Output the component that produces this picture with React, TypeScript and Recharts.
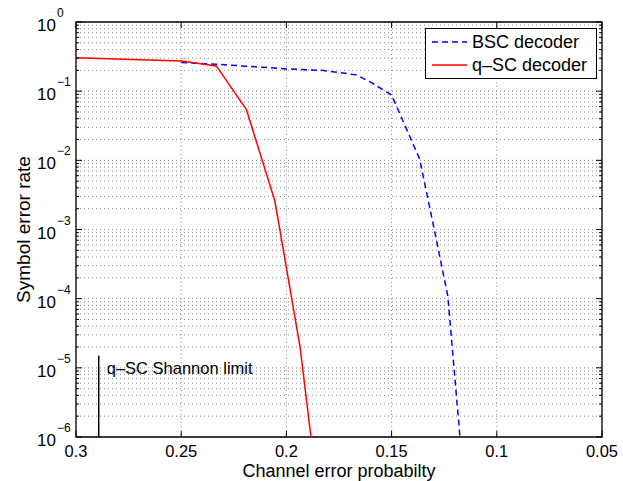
import React from "react";
import {
  LineChart,
  Line,
  XAxis,
  YAxis,
  CartesianGrid,
  Legend,
  ReferenceArea,
  ReferenceLine,
  ReferenceDot,
} from "recharts";

// channel error probability / symbol error rate
const bscX = [0.25, 0.2333, 0.2, 0.1833, 0.1667, 0.16, 0.15, 0.1367, 0.13, 0.1233, 0.11];
const bscY = [0.26, 0.245, 0.21, 0.2, 0.172, 0.135, 0.088, 0.0105, 0.0011, 0.00011, 2.3e-9];

const qscX = [0.3, 0.25, 0.2333, 0.219, 0.2055, 0.1935, 0.18];
const qscY = [0.305, 0.272, 0.232, 0.054, 0.0026, 2.0e-5, 8e-9];

const shannonX = 0.2892;
const shannonTop = 1.5e-5;

const xTicks = [0.3, 0.25, 0.2, 0.15, 0.1, 0.05];
const xTickLabels = ["0.3", "0.25", "0.2", "0.15", "0.1", "0.05"];
const decadeExps = [-6, -5, -4, -3, -2, -1, 0];
const minorSteps = [1, 2, 3, 4, 5, 6, 7, 8, 9];

const bscData = bscX.map((x, i) => ({ x, y: bscY[i] }));
const qscData = qscX.map((x, i) => ({ x, y: qscY[i] }));

const yTicks: number[] = [];
decadeExps.forEach((e) => {
  if (e === 0) {
    yTicks.push(1);
    return;
  }
  minorSteps.forEach((m) => yTicks.push(Number((m * Math.pow(10, e)).toPrecision(3))));
});

const W = 623;
const H = 481;
const margin = { top: 22, right: 21, left: 0, bottom: 0 };
const Y_AXIS_W = 76;
const X_AXIS_H = 44;
const PLOT_LEFT = margin.left + Y_AXIS_W;
const PLOT_RIGHT = W - margin.right;
const PLOT_TOP = margin.top;
const PLOT_BOTTOM = H - margin.bottom - X_AXIS_H;

const FONT = "'Liberation Sans', Arial, Helvetica, sans-serif";

function YTick(props: any) {
  const { y, payload } = props;
  const v = payload.value as number;
  const exp = Math.log10(v);
  const isMajor = Math.abs(exp - Math.round(exp)) < 1e-6;
  const len = isMajor ? 6 : 3;
  return (
    <g>
      <line x1={PLOT_LEFT} x2={PLOT_LEFT + len} y1={y} y2={y} stroke="#000" />
      <line x1={PLOT_RIGHT - len} x2={PLOT_RIGHT} y1={y} y2={y} stroke="#000" />
      {isMajor && (
        <text x={PLOT_LEFT - 39} y={y + 9} fontSize={17} fontFamily={FONT} fill="#000">
          10
          <tspan fontSize={12} dx={1} dy={-14}>
            {Math.round(exp) === 0 ? "0" : `\u2212${Math.abs(Math.round(exp))}`}
          </tspan>
        </text>
      )}
    </g>
  );
}

function XTick(props: any) {
  const { x, payload } = props;
  const idx = xTicks.indexOf(payload.value);
  return (
    <g>
      <line x1={x} x2={x} y1={PLOT_BOTTOM} y2={PLOT_BOTTOM - 6} stroke="#000" />
      <line x1={x} x2={x} y1={PLOT_TOP} y2={PLOT_TOP + 6} stroke="#000" />
      <text x={x} y={457} textAnchor="middle" fontSize={16.5} fontFamily={FONT} fill="#000">
        {idx >= 0 ? xTickLabels[idx] : String(payload.value)}
      </text>
    </g>
  );
}

function LegendBox() {
  return (
    <svg width={172} height={51} style={{ display: "block" }}>
      <rect x={0.5} y={0.5} width={171} height={50} fill="#fff" stroke="#000" strokeWidth={1} />
      <line x1={7} x2={42} y1={14} y2={14} stroke="#0000ff" strokeWidth={1.5} strokeDasharray="6 4" />
      <text x={47} y={20} fontSize={18} fontFamily={FONT} fill="#000">
        BSC decoder
      </text>
      <line x1={7} x2={42} y1={37} y2={37} stroke="#ff0000" strokeWidth={1.5} />
      <text x={47} y={43} fontSize={18} fontFamily={FONT} fill="#000">
        q–SC decoder
      </text>
    </svg>
  );
}

export default function App() {
  return (
    <div style={{ position: "absolute", left: 0, top: 0, width: W, height: H, background: "#fff" }}>
      <LineChart width={W} height={H} margin={margin}>
        <CartesianGrid stroke="#8c8c8c" strokeDasharray="1 3" strokeWidth={1} />
        <XAxis
          type="number"
          dataKey="x"
          domain={[0.05, 0.3]}
          reversed
          ticks={xTicks}
          interval={0}
          height={X_AXIS_H}
          tick={<XTick />}
          tickLine={false}
          axisLine={false}
          allowDataOverflow
          label={{
            content: (p: any) => {
              const vb = p.viewBox;
              return (
                <text
                  x={vb.x + vb.width / 2}
                  y={vb.y + 40}
                  textAnchor="middle"
                  fontSize={18}
                  fontFamily={FONT}
                  fill="#000"
                >
                  Channel error probabilty
                </text>
              );
            },
          }}
        />
        <YAxis
          type="number"
          dataKey="y"
          scale="log"
          domain={[1e-6, 1]}
          ticks={yTicks}
          interval={0}
          width={Y_AXIS_W}
          tick={<YTick />}
          tickLine={false}
          axisLine={false}
          allowDataOverflow
          label={{
            content: (p: any) => {
              const vb = p.viewBox;
              const cx = vb.x + 23;
              const cy = vb.y + vb.height / 2;
              return (
                <text
                  x={cx}
                  y={cy}
                  textAnchor="middle"
                  dominantBaseline="central"
                  transform={`rotate(-90 ${cx} ${cy})`}
                  fontSize={19}
                  fontFamily={FONT}
                  fill="#000"
                >
                  Symbol error rate
                </text>
              );
            },
          }}
        />
        <Legend
          layout="vertical"
          align="center"
          verticalAlign="middle"
          content={() => <LegendBox />}
          wrapperStyle={{ position: "absolute", left: 425, top: 28, width: 172, height: 51 }}
        />
        <Line
          data={bscData}
          dataKey="y"
          name="BSC decoder"
          stroke="#0000ff"
          strokeWidth={1.5}
          strokeDasharray="6 4"
          dot={false}
          activeDot={false}
          isAnimationActive={false}
        />
        <Line
          data={qscData}
          dataKey="y"
          name="q–SC decoder"
          stroke="#ff0000"
          strokeWidth={1.5}
          dot={false}
          activeDot={false}
          isAnimationActive={false}
        />
        <ReferenceLine
          segment={[
            { x: shannonX, y: 1e-6 },
            { x: shannonX, y: shannonTop },
          ]}
          stroke="#000"
          strokeWidth={1.5}
        />
        <ReferenceDot
          x={shannonX}
          y={1e-5}
          r={0}
          fill="none"
          stroke="none"
          label={{
            value: "q–SC Shannon limit",
            position: "right",
            offset: 8,
            fontSize: 16.5,
            fontFamily: FONT,
            fill: "#000",
          }}
        />
        <ReferenceArea x1={0.3} x2={0.05} y1={1e-6} y2={1} fill="none" stroke="#000" strokeWidth={1.3} />
      </LineChart>
    </div>
  );
}
